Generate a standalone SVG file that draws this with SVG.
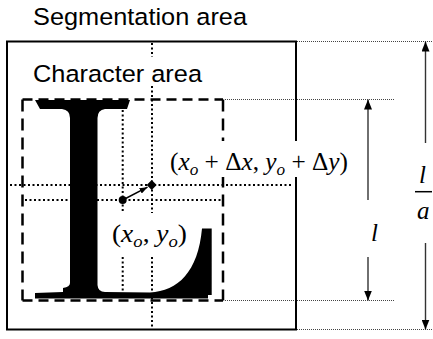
<svg xmlns="http://www.w3.org/2000/svg" width="433" height="339" viewBox="0 0 433 339">
<style>
.lbl{font-family:"Liberation Sans",Arial,sans-serif;font-size:24.5px;fill:#000}
.m{font-family:"Liberation Serif","Times New Roman",serif;font-size:25px;fill:#000}
.i{font-style:italic}
.sub{font-size:17px;font-style:italic}
.dot{stroke:#000;stroke-width:2;stroke-dasharray:2 2.5;fill:none}
.ext{stroke:#444;stroke-width:1;stroke-dasharray:1 1;fill:none}
.dash{stroke:#000;stroke-width:2.5;fill:none}
.arr{stroke:#333;stroke-width:1.4;fill:none}
</style>
<defs>
<marker id="ah" viewBox="0 0 10 8" refX="10" refY="4" markerWidth="10" markerHeight="8" markerUnits="userSpaceOnUse" orient="auto"><path d="M0,0 L10,4 L0,8 z" fill="#000"/></marker>
<marker id="ahs" viewBox="0 0 8 6" refX="8" refY="3" markerWidth="8" markerHeight="6" markerUnits="userSpaceOnUse" orient="auto"><path d="M0,0 L8,3 L0,6 z" fill="#000"/></marker>
</defs>
<rect width="433" height="339" fill="#fff"/>

<g id="connectors">
  <line class="dot" x1="152" y1="43" x2="152" y2="57"/>
  <line class="dot" x1="152" y1="86" x2="152" y2="213"/>
  <line class="dot" x1="152" y1="257" x2="152" y2="327"/>
  <line class="dot" x1="122.7" y1="101" x2="122.7" y2="213"/>
  <line class="dot" x1="122.7" y1="257" x2="122.7" y2="298"/>
  <line class="dot" x1="10" y1="185" x2="292" y2="185"/>
  <line class="dot" x1="25" y1="200" x2="222" y2="200"/>
  <line class="ext" x1="297" y1="41.5" x2="433" y2="41.5"/>
  <line class="ext" x1="225" y1="99.5" x2="395" y2="99.5"/>
  <line class="ext" x1="225" y1="300.5" x2="395" y2="300.5"/>
  <line class="ext" x1="297" y1="329.5" x2="433" y2="329.5"/>
  <line class="arr" x1="368" y1="200" x2="368" y2="99.5" marker-end="url(#ah)"/>
  <line class="arr" x1="368" y1="257" x2="368" y2="300.5" marker-end="url(#ah)"/>
  <line class="arr" x1="425.5" y1="143" x2="425.5" y2="41.5" marker-end="url(#ah)"/>
  <line class="arr" x1="425.5" y1="243" x2="425.5" y2="329.5" marker-end="url(#ah)"/>
  <line x1="122.7" y1="200" x2="147.5" y2="187.2" stroke="#000" stroke-width="1.5" marker-end="url(#ahs)"/>
</g>

<g id="segmentation-area">
  <rect x="7" y="41.5" width="289" height="288" fill="none" stroke="#000" stroke-width="2"/>
  <text class="lbl" x="33" y="25" textLength="214" lengthAdjust="spacingAndGlyphs">Segmentation area</text>
</g>

<g id="glyph-L">
  <path fill="#000" d="M35,100 L130,100 L127,109 L105,109 Q97.5,110 97.5,118 L97.5,285 Q98,292 105,292 L150,292.5 C178,291 198,272 202,228.5 L211.7,228.5 L211.7,295 L208,295 L208,298.5 L35,298.5 L35,293 L63,292 L63,288 Q70,287 70,283 L70,118 Q70,110 62,109 L40,109 Z"/>
</g>

<g id="character-area">
  <line class="dash" x1="22.5" y1="99.5" x2="223" y2="99.5" stroke-dasharray="10 6"/>
  <line class="dash" x1="22.5" y1="300.5" x2="223" y2="300.5" stroke-dasharray="10 6"/>
  <line class="dash" x1="22.5" y1="99.5" x2="22.5" y2="300.5" stroke-dasharray="12 7"/>
  <line class="dash" x1="223" y1="99.5" x2="223" y2="300.5" stroke-dasharray="12 7"/>
  <text class="lbl" x="33" y="82" textLength="169" lengthAdjust="spacingAndGlyphs">Character area</text>
</g>

<g id="points">
  <circle cx="122.7" cy="200" r="4"/>
  <path d="M151.7,180 L156.7,185 L151.7,190 L146.7,185 Z" fill="#000"/>
  <rect x="166" y="141" width="186" height="36" fill="#fff"/>
  <text class="m" x="170" y="170" textLength="178" lengthAdjust="spacingAndGlyphs">(<tspan class="i">x</tspan><tspan class="sub" dy="5">o</tspan><tspan dy="-5"> + Δ</tspan><tspan class="i">x</tspan>, <tspan class="i">y</tspan><tspan class="sub" dy="5">o</tspan><tspan dy="-5"> + Δ</tspan><tspan class="i">y</tspan>)</text>
  <text class="m" x="112" y="242" textLength="75" lengthAdjust="spacingAndGlyphs">(<tspan class="i">x</tspan><tspan class="sub" dy="5">o</tspan><tspan dy="-5">, </tspan><tspan class="i">y</tspan><tspan class="sub" dy="5">o</tspan><tspan dy="-5">)</tspan></text>
</g>

<g id="dimension-labels">
  <text class="m i" x="371" y="241">l</text>
  <text class="m i" x="419" y="183">l</text>
  <line x1="415" y1="191.7" x2="432" y2="191.7" stroke="#000" stroke-width="1.5"/>
  <text class="m i" x="417" y="219">a</text>
</g>
</svg>
